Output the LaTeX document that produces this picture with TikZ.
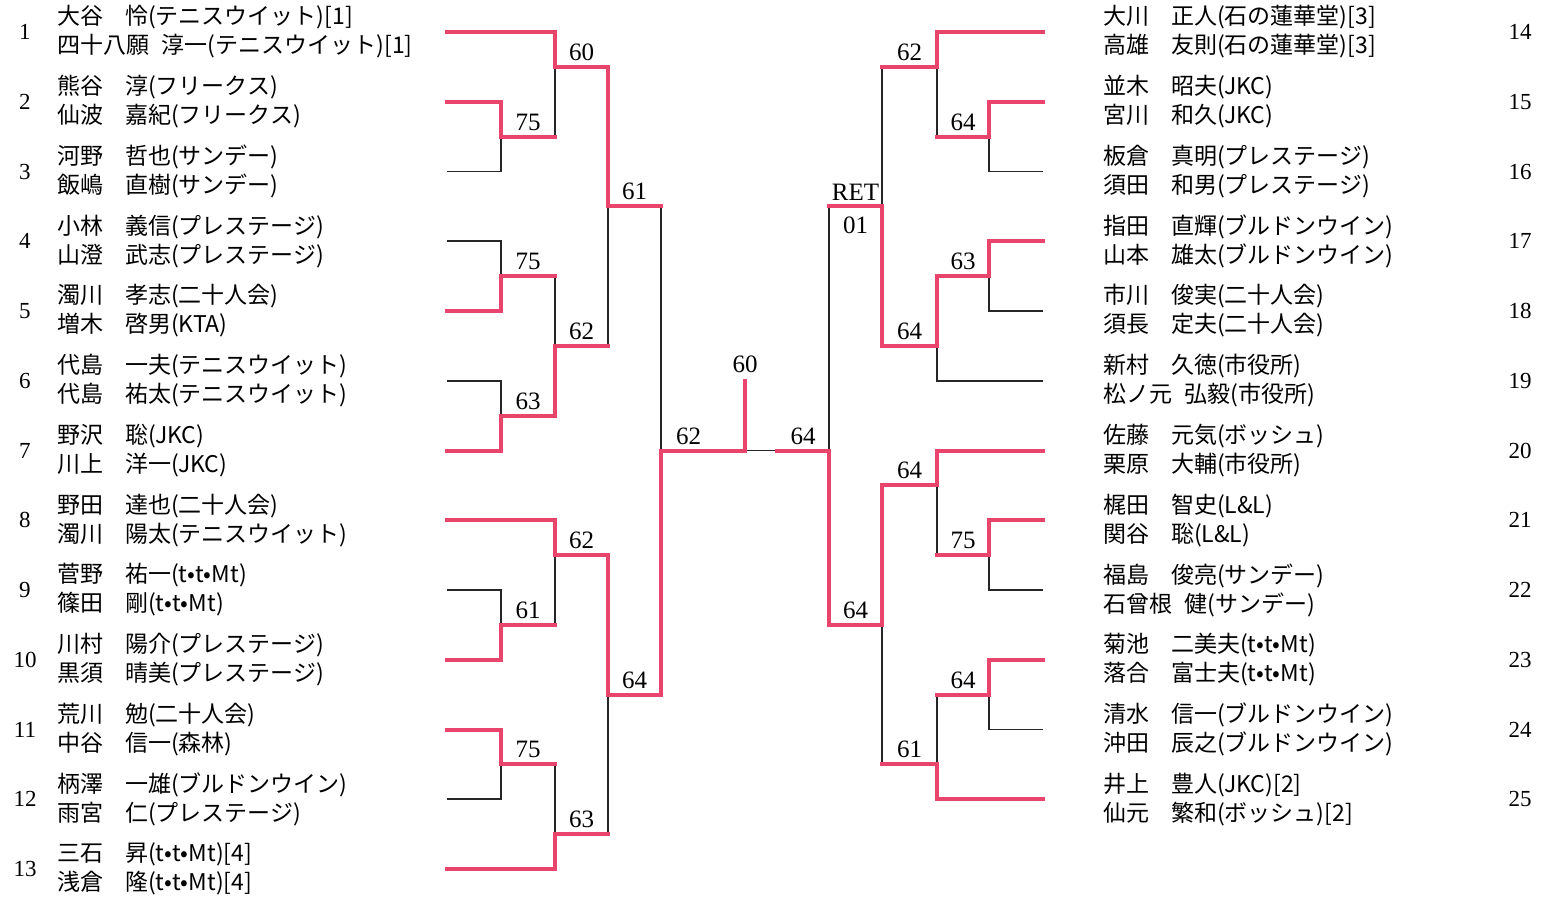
\documentclass[tikz,border=0pt]{standalone}
\usepackage{fontspec}
\usetikzlibrary{positioning}
\setmainfont{Liberation Serif}
\newfontfamily\jp{Noto Sans CJK JP}
\definecolor{winred}{RGB}{233,68,108}
\newlength\surwd
\newcommand\jname[2]{\settowidth\surwd{#1}\ifdim\surwd<2.5em\makebox[2.95em][l]{#1}\else#1\hspace{.55em}\fi#2}

\begin{document}
\begin{tikzpicture}[x=1pt, y=-69.75pt,
    win/.style={color=winred, line width=4pt, line cap=rect},
    lose/.style={color=black!85, line width=1.8pt},
    score/.style={above=5pt, inner sep=1pt, font=\fontsize{25}{30}\selectfont},
    team/.style={anchor=west, align=left, inner sep=0pt, font=\jp\fontsize{23}{29}\selectfont},
    entryno/.style={inner sep=0pt, font=\fontsize{23}{27}\selectfont}]
  \useasboundingbox (0,-0.4588) rectangle (1541,12.4302);
  % entry ends
  \path
    (447,0) coordinate (1)
    (447,1) coordinate (2)
    (447,2) coordinate (3)
    (447,3) coordinate (4)
    (447,4) coordinate (5)
    (447,5) coordinate (6)
    (447,6) coordinate (7)
    (447,7) coordinate (8)
    (447,8) coordinate (9)
    (447,9) coordinate (10)
    (447,10) coordinate (11)
    (447,11) coordinate (12)
    (447,12) coordinate (13)
    (1043,0) coordinate (14)
    (1043,1) coordinate (15)
    (1043,2) coordinate (16)
    (1043,3) coordinate (17)
    (1043,4) coordinate (18)
    (1043,5) coordinate (19)
    (1043,6) coordinate (20)
    (1043,7) coordinate (21)
    (1043,8) coordinate (22)
    (1043,9) coordinate (23)
    (1043,10) coordinate (24)
    (1043,11) coordinate (25);
  % matches
  \path
    (501,1.5) coordinate (m1)
    (555,0.5) coordinate (m2)
    (501,3.5) coordinate (m3)
    (501,5.5) coordinate (m4)
    (555,4.5) coordinate (m5)
    (608,2.5) coordinate (m6)
    (501,8.5) coordinate (m7)
    (555,7.5) coordinate (m8)
    (501,10.5) coordinate (m9)
    (555,11.5) coordinate (m10)
    (608,9.5) coordinate (m11)
    (661,6) coordinate (m12)
    (989,1.5) coordinate (m13)
    (937,0.5) coordinate (m14)
    (989,3.5) coordinate (m15)
    (937,4.5) coordinate (m16)
    (882,2.5) coordinate (m17)
    (989,7.5) coordinate (m18)
    (937,6.5) coordinate (m19)
    (989,9.5) coordinate (m20)
    (937,10.5) coordinate (m21)
    (882,8.5) coordinate (m22)
    (829,6) coordinate (m23)
    (745,6) coordinate (m24)
    (745,5) coordinate (top)
    (777,6) coordinate (mid);

  \begin{scope}[lose]
    \draw (3) -| (m1);
    \draw (m1) -| (m2);
    \draw (4) -| (m3);
    \draw (6) -| (m4);
    \draw (m3) -| (m5);
    \draw (m5) -| (m6);
    \draw (9) -| (m7);
    \draw (m7) -| (m8);
    \draw (12) -| (m9);
    \draw (m9) -| (m10);
    \draw (m10) -| (m11);
    \draw (m6) -| (m12);
    \draw (16) -| (m13);
    \draw (m13) -| (m14);
    \draw (18) -| (m15);
    \draw (19) -| (m16);
    \draw (m14) -| (m17);
    \draw (22) -| (m18);
    \draw (m18) -| (m19);
    \draw (24) -| (m20);
    \draw (m20) -| (m21);
    \draw (m21) -| (m22);
    \draw (m17) -| (m23);
    \draw (mid) -- (m24);
  \end{scope}
  \begin{scope}[win]
    \draw (2) -| (m1);
    \draw (1) -| (m2);
    \draw (m1) -- (m1 -| m2);
    \draw (5) -| (m3);
    \draw (7) -| (m4);
    \draw (m3) -- (m3 -| m5);
    \draw (m4) -| (m5);
    \draw (m2) -| (m6);
    \draw (m5) -- (m5 -| m6);
    \draw (10) -| (m7);
    \draw (8) -| (m8);
    \draw (m7) -- (m7 -| m8);
    \draw (11) -| (m9);
    \draw (m9) -- (m9 -| m10);
    \draw (13) -| (m10);
    \draw (m8) -| (m11);
    \draw (m10) -- (m10 -| m11);
    \draw (m11) -| (m12);
    \draw (m6) -- (m6 -| m12);
    \draw (15) -| (m13);
    \draw (14) -| (m14);
    \draw (m13) -- (m13 -| m14);
    \draw (17) -| (m15);
    \draw (m15) -| (m16);
    \draw (m16) -| (m17);
    \draw (m14) -- (m14 -| m17);
    \draw (21) -| (m18);
    \draw (20) -| (m19);
    \draw (m18) -- (m18 -| m19);
    \draw (23) -| (m20);
    \draw (25) -| (m21);
    \draw (m20) -- (m20 -| m21);
    \draw (m19) -| (m22);
    \draw (m21) -- (m21 -| m22);
    \draw (m22) -| (m23);
    \draw (m17) -- (m17 -| m23);
    \draw (m12) -- (m24) -- (top);
    \draw (m23) -- (mid);
  \end{scope}

  % scores
  \path (m1) -- (m1 -| m2) node[score, midway] (s1) {75};
  \path (m2) -- (m2 -| m6) node[score, midway] (s2) {60};
  \path (m3) -- (m3 -| m5) node[score, midway] (s3) {75};
  \path (m4) -- (m4 -| m5) node[score, midway] (s4) {63};
  \path (m5) -- (m5 -| m6) node[score, midway] (s5) {62};
  \path (m6) -- (m6 -| m12) node[score, midway] (s6) {61};
  \path (m7) -- (m7 -| m8) node[score, midway] (s7) {61};
  \path (m8) -- (m8 -| m11) node[score, midway] (s8) {62};
  \path (m9) -- (m9 -| m10) node[score, midway] (s9) {75};
  \path (m10) -- (m10 -| m11) node[score, midway] (s10) {63};
  \path (m11) -- (m11 -| m12) node[score, midway] (s11) {64};
  \path (m12) -- (m24) node[score, pos=.33] (s12) {62};
  \path (m13) -- (m13 -| m14) node[score, midway] (s13) {64};
  \path (m14) -- (m14 -| m17) node[score, midway] (s14) {62};
  \path (m15) -- (m15 -| m16) node[score, midway] (s15) {63};
  \path (m16) -- (m16 -| m17) node[score, midway] (s16) {64};
  \path (m17) -- (m17 -| m23) node[score, midway] (s17) {RET}
    node[score, midway, below=9pt] (s17b) {01};
  \path (m18) -- (m18 -| m19) node[score, midway] (s18) {75};
  \path (m19) -- (m19 -| m22) node[score, midway] (s19) {64};
  \path (m20) -- (m20 -| m21) node[score, midway] (s20) {64};
  \path (m21) -- (m21 -| m22) node[score, midway] (s21) {61};
  \path (m22) -- (m22 -| m23) node[score, midway] (s22) {64};
  \path (m23) -- (mid) node[score, midway] (s23) {64};
  \node[score, above=7pt] (s24) at (top) {60};

  % left entries
  \node[entryno] (n1) at (25,0) {1};
  \node[entryno] (n2) at (25,1) {2};
  \node[entryno] (n3) at (25,2) {3};
  \node[entryno] (n4) at (25,3) {4};
  \node[entryno] (n5) at (25,4) {5};
  \node[entryno] (n6) at (25,5) {6};
  \node[entryno] (n7) at (25,6) {7};
  \node[entryno] (n8) at (25,7) {8};
  \node[entryno] (n9) at (25,8) {9};
  \node[entryno] (n10) at (25,9) {10};
  \node[entryno] (n11) at (25,10) {11};
  \node[entryno] (n12) at (25,11) {12};
  \node[entryno] (n13) at (25,12) {13};
  \node[team] (t1) at (57,0) {\jname{大谷}{怜}(テニスウイット)[1]\\\jname{四十八願}{淳一}(テニスウイット)[1]};
  \node[team] (t2) at (57,1) {\jname{熊谷}{淳}(フリークス)\\\jname{仙波}{嘉紀}(フリークス)};
  \node[team] (t3) at (57,2) {\jname{河野}{哲也}(サンデー)\\\jname{飯嶋}{直樹}(サンデー)};
  \node[team] (t4) at (57,3) {\jname{小林}{義信}(プレステージ)\\\jname{山澄}{武志}(プレステージ)};
  \node[team] (t5) at (57,4) {\jname{濁川}{孝志}(二十人会)\\\jname{増木}{啓男}(KTA)};
  \node[team] (t6) at (57,5) {\jname{代島}{一夫}(テニスウイット)\\\jname{代島}{祐太}(テニスウイット)};
  \node[team] (t7) at (57,6) {\jname{野沢}{聡}(JKC)\\\jname{川上}{洋一}(JKC)};
  \node[team] (t8) at (57,7) {\jname{野田}{達也}(二十人会)\\\jname{濁川}{陽太}(テニスウイット)};
  \node[team] (t9) at (57,8) {\jname{菅野}{祐一}(t•t•Mt)\\\jname{篠田}{剛}(t•t•Mt)};
  \node[team] (t10) at (57,9) {\jname{川村}{陽介}(プレステージ)\\\jname{黒須}{晴美}(プレステージ)};
  \node[team] (t11) at (57,10) {\jname{荒川}{勉}(二十人会)\\\jname{中谷}{信一}(森林)};
  \node[team] (t12) at (57,11) {\jname{柄澤}{一雄}(ブルドンウイン)\\\jname{雨宮}{仁}(プレステージ)};
  \node[team] (t13) at (57,12) {\jname{三石}{昇}(t•t•Mt)[4]\\\jname{浅倉}{隆}(t•t•Mt)[4]};

  % right entries
  \node[entryno] (n14) at (1520,0) {14};
  \node[entryno] (n15) at (1520,1) {15};
  \node[entryno] (n16) at (1520,2) {16};
  \node[entryno] (n17) at (1520,3) {17};
  \node[entryno] (n18) at (1520,4) {18};
  \node[entryno] (n19) at (1520,5) {19};
  \node[entryno] (n20) at (1520,6) {20};
  \node[entryno] (n21) at (1520,7) {21};
  \node[entryno] (n22) at (1520,8) {22};
  \node[entryno] (n23) at (1520,9) {23};
  \node[entryno] (n24) at (1520,10) {24};
  \node[entryno] (n25) at (1520,11) {25};
  \node[team] (t14) at (1103,0) {\jname{大川}{正人}(石の蓮華堂)[3]\\\jname{高雄}{友則}(石の蓮華堂)[3]};
  \node[team] (t15) at (1103,1) {\jname{並木}{昭夫}(JKC)\\\jname{宮川}{和久}(JKC)};
  \node[team] (t16) at (1103,2) {\jname{板倉}{真明}(プレステージ)\\\jname{須田}{和男}(プレステージ)};
  \node[team] (t17) at (1103,3) {\jname{指田}{直輝}(ブルドンウイン)\\\jname{山本}{雄太}(ブルドンウイン)};
  \node[team] (t18) at (1103,4) {\jname{市川}{俊実}(二十人会)\\\jname{須長}{定夫}(二十人会)};
  \node[team] (t19) at (1103,5) {\jname{新村}{久徳}(市役所)\\\jname{松ノ元}{弘毅}(市役所)};
  \node[team] (t20) at (1103,6) {\jname{佐藤}{元気}(ボッシュ)\\\jname{栗原}{大輔}(市役所)};
  \node[team] (t21) at (1103,7) {\jname{梶田}{智史}(L\&L)\\\jname{関谷}{聡}(L\&L)};
  \node[team] (t22) at (1103,8) {\jname{福島}{俊亮}(サンデー)\\\jname{石曾根}{健}(サンデー)};
  \node[team] (t23) at (1103,9) {\jname{菊池}{二美夫}(t•t•Mt)\\\jname{落合}{富士夫}(t•t•Mt)};
  \node[team] (t24) at (1103,10) {\jname{清水}{信一}(ブルドンウイン)\\\jname{沖田}{辰之}(ブルドンウイン)};
  \node[team] (t25) at (1103,11) {\jname{井上}{豊人}(JKC)[2]\\\jname{仙元}{繁和}(ボッシュ)[2]};
\end{tikzpicture}
\end{document}
